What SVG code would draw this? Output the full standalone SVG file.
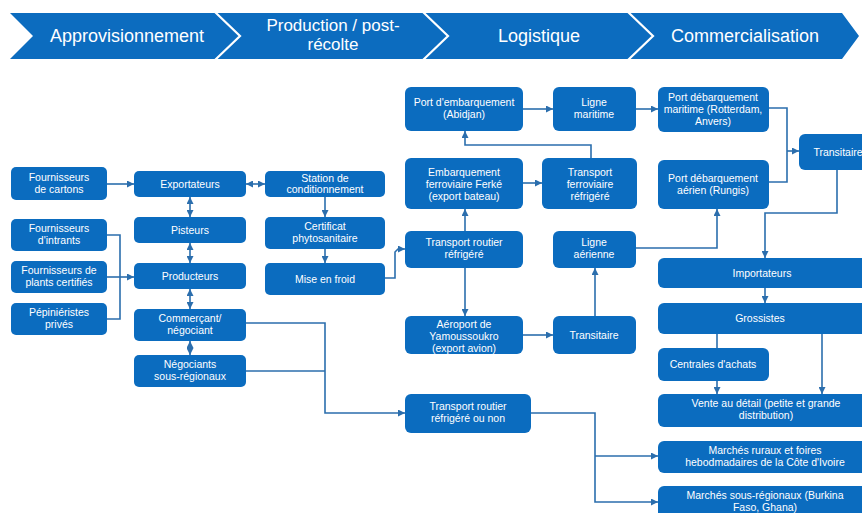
<svg xmlns="http://www.w3.org/2000/svg" width="862" height="513" viewBox="0 0 862 513">
  <defs>
    <marker id="arr" viewBox="0 0 10 10" refX="10" refY="5" markerWidth="7" markerHeight="7" markerUnits="userSpaceOnUse" orient="auto-start-reverse">
      <path d="M0,0 L10,5 L0,10 Z" fill="#2b6ead"/>
    </marker>
    <style>
      .bg { fill: #ffffff; }
      .band { fill: #0c6cbf; }
      .sep { fill: none; stroke: #ffffff; stroke-width: 2.2; }
      .head { font-family: "Liberation Sans", Arial, sans-serif; font-size: 18px; fill: #ffffff; text-anchor: middle; }
      .head2 { font-size: 17px; }
      .node rect { fill: #0b6cbf; }
      .node text { font-family: "Liberation Sans", Arial, sans-serif; font-size: 10.5px; fill: #ffffff; text-anchor: middle; }
      .link { fill: none; stroke: #2b6ead; stroke-width: 1.6; }
      .a { marker-end: url(#arr); }
      .aa { marker-start: url(#arr); marker-end: url(#arr); }
    </style>
  </defs>

  <rect class="bg" x="0" y="0" width="862" height="513"/>

  <!-- Stage banner -->
  <g id="banner">
    <path class="band" d="M10,13 L842,13 L859,36 L842,59 L10,59 L33,36 Z"/>
    <polyline class="sep" points="215,12 240,36 215,60"/>
    <polyline class="sep" points="423,12 448,36 423,60"/>
    <polyline class="sep" points="628,12 653,36 628,60"/>
    <text class="head" x="127" y="42">Approvisionnement</text>
    <text class="head head2" x="333" y="31">Production / post-</text>
    <text class="head head2" x="333" y="50">récolte</text>
    <text class="head" x="539" y="42">Logistique</text>
    <text class="head" x="745" y="42">Commercialisation</text>
  </g>

  <!-- Connectors -->
  <g id="connectors">
    <polyline class="link a" points="107,184 134,184"/>
    <polyline class="link" points="107,235 120,235 120,319 107,319"/>
    <polyline class="link a" points="107,277 134,277"/>
    <polyline class="link aa" points="190,197 190,217"/>
    <polyline class="link aa" points="190,243 190,263"/>
    <polyline class="link aa" points="190,289 190,309"/>
    <polyline class="link aa" points="190,341 190,355"/>
    <polyline class="link aa" points="246,184 265,184"/>
    <polyline class="link a" points="325,197 325,217"/>
    <polyline class="link a" points="325,249 325,263"/>
    <polyline class="link a" points="385,278 395,278 395,252 398,249 405,249"/>
    <polyline class="link a" points="465,231 465,209"/>
    <polyline class="link a" points="465,268 465,316"/>
    <polyline class="link a" points="523,183 542,183"/>
    <polyline class="link a" points="591,158 591,145 465,145 465,131"/>
    <polyline class="link a" points="523,109 553,109"/>
    <polyline class="link a" points="523,335 553,335"/>
    <polyline class="link a" points="595,316 595,268"/>
    <polyline class="link a" points="636,109 658,109"/>
    <polyline class="link a" points="636,248 717,248 717,209"/>
    <polyline class="link" points="769,108 787,108 787,182 769,182"/>
    <polyline class="link a" points="787,151 799,151"/>
    <polyline class="link a" points="837,170 837,213 765,213 765,258"/>
    <polyline class="link a" points="765,288 765,303"/>
    <polyline class="link" points="717,334 717,348"/>
    <polyline class="link a" points="717,381 717,394"/>
    <polyline class="link a" points="822,334 822,394"/>
    <polyline class="link a" points="246,323 325,323 325,413 405,413"/>
    <polyline class="link" points="246,371 325,371"/>
    <polyline class="link a" points="531,413 595,413 595,502 658,502"/>
    <polyline class="link a" points="595,456 658,456"/>
  </g>

  <!-- Approvisionnement -->
  <g id="fournisseurs-cartons" class="node">
    <rect x="11" y="167" width="96" height="33" rx="5"/>
    <text x="59" y="181">Fournisseurs</text>
    <text x="59" y="193">de cartons</text>
  </g>
  <g id="fournisseurs-intrants" class="node">
    <rect x="11" y="219" width="96" height="32" rx="5"/>
    <text x="59" y="232">Fournisseurs</text>
    <text x="59" y="244">d'intrants</text>
  </g>
  <g id="fournisseurs-plants" class="node">
    <rect x="11" y="261" width="96" height="32" rx="5"/>
    <text x="59" y="274">Fournisseurs de</text>
    <text x="59" y="286">plants certifiés</text>
  </g>
  <g id="pepinieristes" class="node">
    <rect x="11" y="303" width="96" height="32" rx="5"/>
    <text x="59" y="316">Pépiniéristes</text>
    <text x="59" y="328">privés</text>
  </g>
  <g id="exportateurs" class="node">
    <rect x="134" y="171" width="112" height="26" rx="5"/>
    <text x="190" y="188">Exportateurs</text>
  </g>
  <g id="pisteurs" class="node">
    <rect x="134" y="217" width="112" height="26" rx="5"/>
    <text x="190" y="234">Pisteurs</text>
  </g>
  <g id="producteurs" class="node">
    <rect x="134" y="263" width="112" height="26" rx="5"/>
    <text x="190" y="280">Producteurs</text>
  </g>
  <g id="commercant" class="node">
    <rect x="134" y="309" width="112" height="32" rx="5"/>
    <text x="190" y="322">Commerçant/</text>
    <text x="190" y="334">négociant</text>
  </g>
  <g id="negociants" class="node">
    <rect x="134" y="355" width="112" height="32" rx="5"/>
    <text x="190" y="368">Négociants</text>
    <text x="190" y="380">sous-régionaux</text>
  </g>

  <!-- Production / post-récolte -->
  <g id="station" class="node">
    <rect x="265" y="171" width="120" height="26" rx="5"/>
    <text x="325" y="182">Station de</text>
    <text x="325" y="193">conditionnement</text>
  </g>
  <g id="certificat" class="node">
    <rect x="265" y="217" width="120" height="32" rx="5"/>
    <text x="325" y="230">Certificat</text>
    <text x="325" y="242">phytosanitaire</text>
  </g>
  <g id="mise-en-froid" class="node">
    <rect x="265" y="263" width="120" height="32" rx="5"/>
    <text x="325" y="283">Mise en froid</text>
  </g>

  <!-- Logistique -->
  <g id="port-embarquement" class="node">
    <rect x="405" y="87" width="118" height="44" rx="6"/>
    <text x="464" y="106">Port d'embarquement</text>
    <text x="464" y="118">(Abidjan)</text>
  </g>
  <g id="embarquement-ferroviaire" class="node">
    <rect x="405" y="158" width="118" height="51" rx="6"/>
    <text x="464" y="176">Embarquement</text>
    <text x="464" y="188">ferroviaire Ferké</text>
    <text x="464" y="200">(export bateau)</text>
  </g>
  <g id="transport-routier" class="node">
    <rect x="405" y="231" width="118" height="37" rx="6"/>
    <text x="464" y="246">Transport routier</text>
    <text x="464" y="258">réfrigéré</text>
  </g>
  <g id="aeroport" class="node">
    <rect x="405" y="316" width="118" height="38" rx="6"/>
    <text x="464" y="328">Aéroport de</text>
    <text x="464" y="340">Yamoussoukro</text>
    <text x="464" y="352">(export avion)</text>
  </g>
  <g id="transport-routier-non" class="node">
    <rect x="405" y="394" width="126" height="39" rx="6"/>
    <text x="468" y="410">Transport routier</text>
    <text x="468" y="422">réfrigéré ou non</text>
  </g>
  <g id="ligne-maritime" class="node">
    <rect x="553" y="87" width="83" height="44" rx="6"/>
    <text x="594" y="106">Ligne</text>
    <text x="594" y="118">maritime</text>
  </g>
  <g id="transport-ferroviaire" class="node">
    <rect x="542" y="158" width="95" height="51" rx="6"/>
    <text x="590" y="176">Transport</text>
    <text x="590" y="188">ferroviaire</text>
    <text x="590" y="200">réfrigéré</text>
  </g>
  <g id="ligne-aerienne" class="node">
    <rect x="553" y="231" width="83" height="37" rx="6"/>
    <text x="594" y="246">Ligne</text>
    <text x="594" y="258">aérienne</text>
  </g>
  <g id="transitaire-depart" class="node">
    <rect x="553" y="316" width="83" height="38" rx="6"/>
    <text x="594" y="339">Transitaire</text>
  </g>

  <!-- Commercialisation -->
  <g id="port-debarquement-maritime" class="node">
    <rect x="658" y="87" width="111" height="45" rx="6"/>
    <text x="713" y="101">Port débarquement</text>
    <text x="713" y="113">maritime (Rotterdam,</text>
    <text x="713" y="125">Anvers)</text>
  </g>
  <g id="port-debarquement-aerien" class="node">
    <rect x="658" y="160" width="111" height="49" rx="6"/>
    <text x="713" y="182">Port débarquement</text>
    <text x="713" y="194">aérien (Rungis)</text>
  </g>
  <g id="transitaire-arrivee" class="node">
    <rect x="799" y="134" width="80" height="36" rx="6"/>
    <text x="838" y="156">Transitaire</text>
  </g>
  <g id="importateurs" class="node">
    <rect x="658" y="258" width="214" height="30" rx="6"/>
    <text x="762" y="277">Importateurs</text>
  </g>
  <g id="grossistes" class="node">
    <rect x="658" y="303" width="214" height="31" rx="6"/>
    <text x="760" y="322">Grossistes</text>
  </g>
  <g id="centrales" class="node">
    <rect x="658" y="348" width="111" height="33" rx="6"/>
    <text x="713" y="368">Centrales d'achats</text>
  </g>
  <g id="vente-detail" class="node">
    <rect x="658" y="394" width="214" height="33" rx="6"/>
    <text x="766" y="407">Vente au détail (petite et grande</text>
    <text x="766" y="419">distribution)</text>
  </g>
  <g id="marches-ruraux" class="node">
    <rect x="658" y="441" width="214" height="32" rx="6"/>
    <text x="765" y="454">Marchés ruraux et foires</text>
    <text x="765" y="466">hebodmadaires de la Côte d'Ivoire</text>
  </g>
  <g id="marches-sous-regionaux" class="node">
    <rect x="658" y="486" width="214" height="34" rx="6"/>
    <text x="765" y="499">Marchés sous-régionaux (Burkina</text>
    <text x="765" y="511">Faso, Ghana)</text>
  </g>
</svg>
